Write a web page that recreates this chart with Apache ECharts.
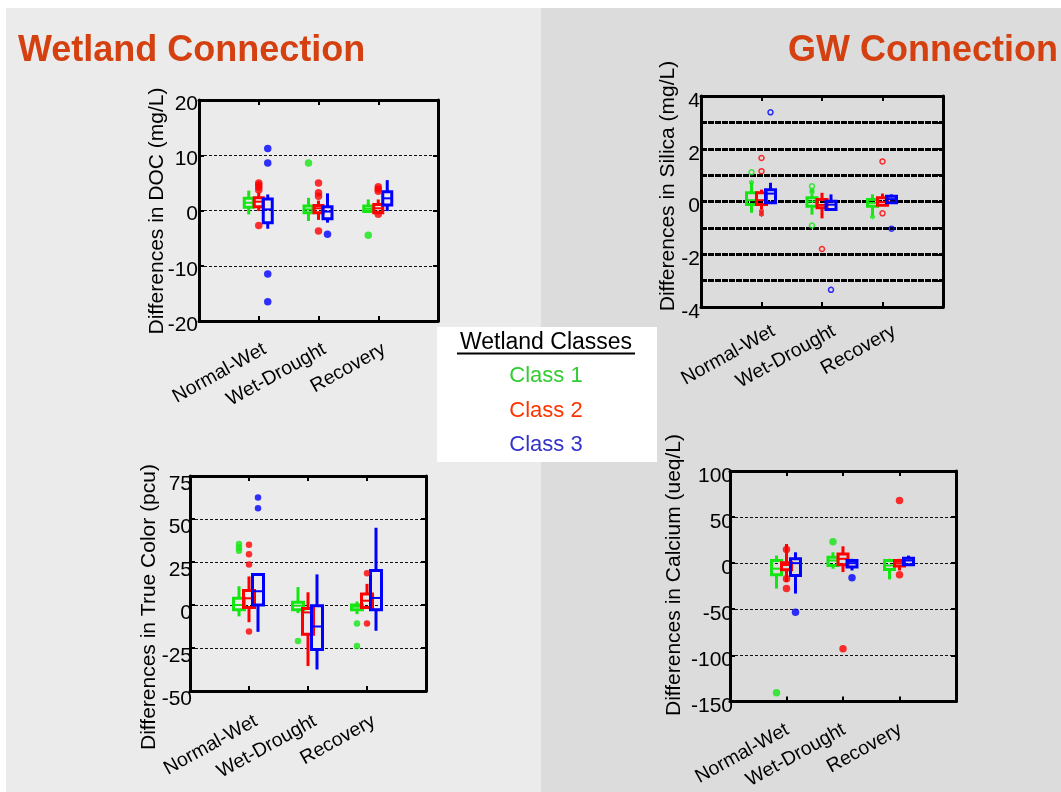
<!DOCTYPE html>
<html>
<head>
<meta charset="utf-8">
<script src="https://cdn.jsdelivr.net/npm/echarts@6/dist/echarts.min.js"></script>
<style>
html,body{margin:0;padding:0;background:#fff;}
#chart{width:1061px;height:792px;}
</style>
</head>
<body>
<div id="chart"></div>
<script>
// ---------- DATA ----------
const CATS = ['Normal-Wet', 'Wet-Drought', 'Recovery'];
const CLASS_NAMES = ['Class 1', 'Class 2', 'Class 3'];

// box rows: [category no., low whisker, Q1, median, Q3, high whisker]
// DOC (mg/L)
const docTicks = [-20, -10, 0, 10, 20];
const docBox1 = [[1, -0.7, 0.6, 1.4, 2.2, 3.6], [2, -1.9, -0.4, 0.2, 0.8, 2.3], [3, -0.3, -0.2, 0.3, 0.8, 2.0]];
const docBox2 = [[1, -0.1, 0.7, 1.6, 2.3, 3.2], [2, -1.7, -0.4, 0.4, 0.9, 1.8], [3, -0.5, -0.4, 0.4, 1.1, 2.0]];
const docBox3 = [[1, -3.3, -2.2, 0.2, 2.1, 2.9], [2, -2.2, -1.5, -0.2, 0.7, 3.1], [3, -0.1, 1.0, 2.2, 3.4, 5.5]];
const docOut1 = [[2, 8.6], [3, -4.5]];
const docOut2 = [[1, 5.0], [1, 4.6], [1, 4.2], [1, 3.7], [1, -2.7], [2, 5.0], [2, 3.2], [2, 2.6], [2, -3.7], [3, 4.3], [3, 3.9], [3, 3.5], [3, -0.7]];
const docOut3 = [[1, 11.2], [1, 8.6], [1, -11.5], [1, -16.5], [2, -4.3]];

// Silica (mg/L)
const siTicks = [-4, -2, 0, 2, 4];
const siBox1 = [[1, -0.43, -0.11, 0.05, 0.33, 0.71], [2, -0.5, -0.18, 0.0, 0.14, 0.27], [3, -0.53, -0.18, -0.05, 0.08, 0.27]];
const siBox2 = [[1, -0.30, -0.11, 0.05, 0.33, 0.45], [2, -0.64, -0.24, -0.13, 0.08, 0.33], [3, -0.14, -0.14, -0.02, 0.14, 0.30]];
const siBox3 = [[1, -0.05, -0.05, 0.30, 0.45, 0.71], [2, -0.30, -0.30, -0.12, 0.01, 0.27], [3, -0.08, -0.05, 0.09, 0.20, 0.27]];
const siOut1 = [[1, 1.11, 'o'], [1, 0.73, '*'], [2, 0.58, 'o'], [2, 0.43, '*'], [2, 0.35, '*'], [2, -0.91, 'o'], [3, -0.58, '*']];
const siOut2 = [[1, 1.65, 'o'], [1, 1.15, 'o'], [1, -0.37, '*'], [1, -0.49, '*'], [2, -1.8, 'o'], [3, 1.52, 'o'], [3, -0.45, 'o']];
const siOut3 = [[1, 3.38, 'o'], [2, -3.35, 'o'], [3, -1.03, 'o']];

// True Color (pcu)
const tcTicks = [-50, -25, 0, 25, 50, 75];
const tcBox1 = [[1, -6.6, -2.7, 0, 3.9, 10.9], [2, -4.7, -2.7, -0.4, 1.6, 10.4], [3, -5.3, -2.7, -1.0, 0, 2.0]];
const tcBox2 = [[1, -10, -1.4, 3.9, 8.4, 16.6], [2, -35.5, -17, -4.3, -2.0, 7.4], [3, -1.4, -1.4, 2.5, 6.4, 12.3]];
const tcBox3 = [[1, -15.6, 0, 8.0, 17.8, 17.8], [2, -37.5, -25.8, -12.5, -0.4, 17.8], [3, -15, -2.7, 4.1, 20.1, 44.9]];
const tcOut1 = [[1, 35.5], [1, 33.5], [1, 31.5], [2, -20.9], [3, -10.7], [3, -23.8]];
const tcOut2 = [[1, 35.0], [1, 29.5], [1, 23.5], [1, -15.4], [3, 18.5], [3, -10.7]];
const tcOut3 = [[1, 62.5], [1, 56.3]];

// Calcium (ueq/L)
const caTicks = [-150, -100, -50, 0, 50, 100];
const caBox1 = [[1, -27.6, -12.5, -6, 2.9, 8.2], [2, -6.1, -2.5, 2.9, 6.5, 11.8], [3, -17.6, -6.8, -2.5, 2.9, 4.7]];
const caBox2 = [[1, -20.4, -7.2, -2, 0.4, 20.8], [2, -9.7, -1.8, 4.7, 10, 18.3], [3, -7.9, -3.2, 0, 2.9, 4.7]];
const caBox3 = [[1, -33, -13.3, 0, 4.7, 11.8], [2, -7.9, -4.3, 0, 2.9, 4.7], [3, -1.8, -1.8, 2.9, 5.4, 8.2]];
const caOut1 = [[1, -140.5], [2, 23.3]];
const caOut2 = [[1, 14.7], [1, -16.8], [1, -27.6], [2, -92.8], [3, 68.1], [3, -12.5]];
const caOut3 = [[1, -53.4], [2, -15.8]];

// ---------- STYLE / LAYOUT ----------
const FONT = '"Liberation Sans", Arial, sans-serif';
const COLORS = ['#14e614', '#ff0000', '#0000ff'];
const LEGEND_COLORS = ['#33cc33', '#ff3300', '#3333cc'];
const OFFSETS = [-10, 0, 9];
const STAR = 'path://M0,-1L0,1M-0.87,-0.5L0.87,0.5M-0.87,0.5L0.87,-0.5M-1,0L1,0';

const thinGrid = {color: '#111', width: 1, type: [3, 2]};
const thickGrid = {color: '#000', width: 3, type: [6, 1]};

const PANELS = [
  {grid: {left: 199, top: 100, width: 239, height: 221}, min: -20, max: 20, interval: 10, ticks: docTicks,
   boxes: [docBox1, docBox2, docBox3], outs: [docOut1, docOut2, docOut3], split: thinGrid,
   title: 'Differences in DOC (mg/L)', tx: 157, ty: 211, labShift: 6, labMargin: 27, yShift: 4, yMargin: 1,
   boxW: 9, lw: 3, sym: 7.5, hollow: false},
  {grid: {left: 701, top: 96, width: 242, height: 211}, min: -4, max: 4, interval: 1, ticks: siTicks,
   boxes: [siBox1, siBox2, siBox3], outs: [siOut1, siOut2, siOut3], split: thickGrid,
   title: 'Differences in Silica (mg/L)', tx: 668, ty: 186, labShift: 12, labMargin: 23, yShift: 5, yMargin: 1,
   boxW: 10, lw: 3, sym: 5, hollow: true},
  {grid: {left: 190, top: 476, width: 236, height: 215}, min: -50, max: 75, interval: 25, ticks: tcTicks,
   boxes: [tcBox1, tcBox2, tcBox3], outs: [tcOut1, tcOut2, tcOut3], split: thinGrid,
   title: 'Differences in True Color (pcu)', tx: 149, ty: 607, labShift: 7, labMargin: 29, yShift: 8, yMargin: -2,
   boxW: 11, lw: 3, sym: 6.5, hollow: false},
  {grid: {left: 730, top: 471, width: 226, height: 231}, min: -150, max: 100, interval: 50, ticks: caTicks,
   boxes: [caBox1, caBox2, caBox3], outs: [caOut1, caOut2, caOut3], split: thinGrid,
   title: 'Differences in Calcium (ueq/L)', tx: 674, ty: 575, labShift: 1, labMargin: 27, yShift: 5, yMargin: -3,
   boxW: 10, lw: 3, sym: 7.5, hollow: false}
];

function makeBox(off, color, bw, lw) {
  return function (params, api) {
    const x = api.value(0);
    const pLo = api.coord([x, api.value(1)]);
    const pQ1 = api.coord([x, api.value(2)]);
    const pMed = api.coord([x, api.value(3)]);
    const pQ3 = api.coord([x, api.value(4)]);
    const pHi = api.coord([x, api.value(5)]);
    const cx = pLo[0] + off;
    const h = bw / 2;
    const st = {stroke: color, lineWidth: lw, fill: 'none'};
    return {type: 'group', children: [
      {type: 'line', shape: {x1: cx, y1: pHi[1], x2: cx, y2: pQ3[1]}, style: st},
      {type: 'line', shape: {x1: cx, y1: pQ1[1], x2: cx, y2: pLo[1]}, style: st},
      {type: 'rect', shape: {x: cx - h, y: pQ3[1], width: bw, height: Math.max(pQ1[1] - pQ3[1], 1)}, style: st},
      {type: 'line', shape: {x1: cx - h, y1: pMed[1], x2: cx + h, y2: pMed[1]}, style: {stroke: color, lineWidth: 2}}
    ]};
  };
}

const xAxes = [], yAxes = [], grids = [], series = [], graphics = [];
const frameLine = {show: true, onZero: false, lineStyle: {color: '#000', width: 3}};

PANELS.forEach((p, i) => {
  grids.push(Object.assign({containLabel: false}, p.grid));
  const unit = p.grid.width / 4;
  xAxes.push({
    gridIndex: i, type: 'value', min: 0, max: 4, position: 'bottom',
    axisLine: frameLine,
    axisTick: {inside: true, length: 5, customValues: [1, 2, 3], lineStyle: {color: '#000', width: 2}},
    axisLabel: {customValues: CATS.map((c, k) => k + 1 + p.labShift / unit),
      formatter: v => CATS[Math.round(v) - 1] || '', rotate: 29, margin: p.labMargin,
      fontSize: 19.5, color: '#000', fontFamily: FONT},
    splitLine: {show: false}
  });
  xAxes.push({
    gridIndex: i, type: 'value', min: 0, max: 4, position: 'top',
    axisLine: frameLine,
    axisTick: {inside: true, length: 5, customValues: [1, 2, 3], lineStyle: {color: '#000', width: 2}},
    axisLabel: {show: false}, splitLine: {show: false}
  });
  yAxes.push({
    gridIndex: i, type: 'value', min: p.min, max: p.max, interval: p.interval, position: 'left',
    axisLine: frameLine,
    axisTick: {inside: true, length: 5, lineStyle: {color: '#000', width: 2}},
    axisLabel: {customValues: p.ticks, margin: p.yMargin, fontSize: 21, color: '#000', fontFamily: FONT,
      verticalAlign: 'top', lineHeight: 2 * p.yShift},
    splitLine: {show: true, lineStyle: p.split}
  });
  yAxes.push({
    gridIndex: i, type: 'value', min: p.min, max: p.max, interval: p.interval, position: 'right',
    axisLine: frameLine,
    axisTick: {inside: true, length: 5, lineStyle: {color: '#000', width: 2}},
    axisLabel: {show: false}, splitLine: {show: false}
  });
  for (let k = 0; k < 3; k++) {
    series.push({
      type: 'custom', name: CLASS_NAMES[k], xAxisIndex: 2 * i, yAxisIndex: 2 * i,
      data: p.boxes[k], encode: {x: 0, y: [1, 2, 3, 4, 5]},
      renderItem: makeBox(OFFSETS[k], COLORS[k], p.boxW, p.lw), z: 3, silent: true, clip: false
    });
    series.push({
      type: 'scatter', name: CLASS_NAMES[k], xAxisIndex: 2 * i, yAxisIndex: 2 * i,
      data: p.outs[k], symbolSize: p.sym, symbolOffset: [OFFSETS[k], 0],
      symbol: p.hollow ? (v => v[2] === '*' ? STAR : 'circle') : 'circle',
      itemStyle: p.hollow ? {color: 'rgba(0,0,0,0)', borderColor: COLORS[k], borderWidth: 1.5}
                          : {color: COLORS[k]},
      z: 4, silent: true
    });
  }
  graphics.push({type: 'text', x: p.tx, y: p.ty, rotation: Math.PI / 2,
    style: {text: p.title, font: '21px ' + FONT, fill: '#000', align: 'center', verticalAlign: 'middle'}, z: 5});
});

// backgrounds, headers, legend box
graphics.unshift(
  {type: 'rect', shape: {x: 6, y: 8, width: 535, height: 784}, style: {fill: '#ebebeb'}, z: -100},
  {type: 'rect', shape: {x: 541, y: 8, width: 520, height: 784}, style: {fill: '#dcdcdc'}, z: -100}
);
graphics.push(
  {type: 'text', x: 18, y: 51, style: {text: 'Wetland Connection', font: 'bold 36px ' + FONT, fill: '#d4400f', align: 'left', verticalAlign: 'middle'}},
  {type: 'text', x: 1058, y: 51, style: {text: 'GW Connection', font: 'bold 36px ' + FONT, fill: '#d4400f', align: 'right', verticalAlign: 'middle'}},
  {type: 'rect', shape: {x: 437, y: 327, width: 220, height: 135}, style: {fill: '#ffffff'}, z: 10},
  {type: 'text', x: 546, y: 343, style: {text: 'Wetland Classes', font: '23px ' + FONT, fill: '#000', align: 'center', verticalAlign: 'middle'}, z: 11},
  {type: 'line', shape: {x1: 457, y1: 353.5, x2: 635, y2: 353.5}, style: {stroke: '#000', lineWidth: 2}, z: 11}
);
CLASS_NAMES.forEach((n, k) => {
  graphics.push({type: 'text', x: 546, y: 376 + k * 34.5,
    style: {text: n, font: '22px ' + FONT, fill: LEGEND_COLORS[k], align: 'center', verticalAlign: 'middle'}, z: 11});
});

const chart = echarts.init(document.getElementById('chart'), null, {renderer: 'canvas'});
chart.setOption({
  backgroundColor: '#ffffff',
  animation: false,
  grid: grids,
  xAxis: xAxes,
  yAxis: yAxes,
  series: series,
  graphic: {elements: graphics}
});
</script>
</body>
</html>
